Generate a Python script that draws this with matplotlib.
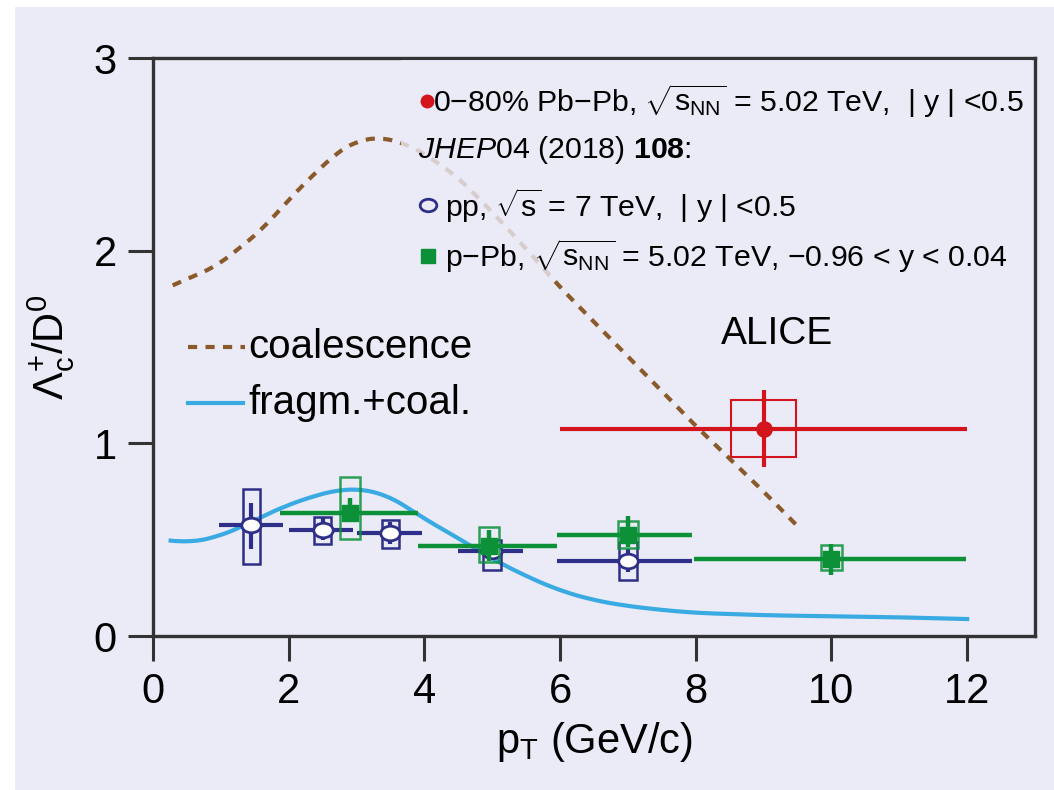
import numpy as np
import matplotlib
matplotlib.use('Agg')
import matplotlib.pyplot as plt
from matplotlib.patches import Rectangle
from matplotlib.path import Path
from matplotlib.transforms import Affine2D

# fonts
plt.rcParams['font.family'] = ['Liberation Sans', 'DejaVu Sans']
plt.rcParams['mathtext.fontset'] = 'custom'
plt.rcParams['mathtext.rm'] = 'Liberation Sans'
plt.rcParams['mathtext.it'] = 'Liberation Sans:italic'
plt.rcParams['mathtext.bf'] = 'Liberation Sans:bold'

# colours
BG = '#ebebf7'
RED = '#d3141c'
NAVY = '#2e2f88'
GREEN = '#0c9138'
BROWN = '#8b5a2b'
SKY = '#3aaae2'

# Pb-Pb 0-80%
pbpb_x = [9.0]
pbpb_y = [1.075]
pbpb_xerr = [3.0]
pbpb_stat = [0.20]
pbpb_sys_lo = [0.93]
pbpb_sys_hi = [1.225]

# pp 7 TeV
pp_x = [1.45, 2.5, 3.5, 5.0, 7.0]
pp_y = [0.575, 0.55, 0.533, 0.44, 0.39]
pp_xlo = [0.97, 2.0, 3.0, 4.5, 5.95]
pp_xhi = [1.92, 2.95, 3.97, 5.45, 7.95]
pp_stat_lo = [0.45, 0.50, 0.48, 0.40, 0.33]
pp_stat_hi = [0.69, 0.61, 0.59, 0.48, 0.45]
pp_sys_lo = [0.375, 0.477, 0.455, 0.34, 0.29]
pp_sys_hi = [0.765, 0.62, 0.60, 0.50, 0.49]

# p-Pb 5.02 TeV
ppb_x = [2.9, 4.95, 7.0, 10.0]
ppb_y = [0.637, 0.467, 0.525, 0.40]
ppb_xlo = [1.87, 3.9, 5.95, 7.97]
ppb_xhi = [3.9, 5.95, 7.95, 11.98]
ppb_stat_lo = [0.59, 0.39, 0.46, 0.315]
ppb_stat_hi = [0.715, 0.55, 0.625, 0.48]
ppb_sys_lo = [0.503, 0.382, 0.458, 0.342]
ppb_sys_hi = [0.827, 0.564, 0.597, 0.472]

# model curves
coal_x = [0.29, 0.94, 1.58, 2.12, 2.71, 3.0, 3.4, 3.89, 4.5, 5.0, 5.5, 6.0, 6.5,
          7.0, 7.5, 8.0, 8.5, 9.0, 9.5]
coal_y = [1.82, 1.92, 2.10, 2.31, 2.51, 2.57, 2.59, 2.53, 2.38, 2.20, 2.01, 1.81, 1.63,
          1.45, 1.27, 1.09, 0.92, 0.75, 0.57]
frag_x = [0.26, 0.55, 0.9, 1.28, 1.6, 1.92, 2.3, 2.8, 3.1, 3.4, 3.7, 4.03, 4.38,
          5.0, 5.5, 6.0, 6.5, 7.0, 7.5, 8.0, 9.0, 10.0, 11.0, 12.0]
frag_y = [0.495, 0.484, 0.51, 0.56, 0.62, 0.67, 0.72, 0.765, 0.76, 0.74, 0.68, 0.60, 0.533,
          0.40, 0.31, 0.235, 0.185, 0.155, 0.135, 0.12, 0.108, 0.102, 0.097, 0.088]

fig = plt.figure(figsize=(10.54, 7.9), dpi=100, facecolor='white')
fig.patches.append(Rectangle((15 / 1054, 0), 1, 1 - 7 / 790, transform=fig.transFigure,
                             facecolor=BG, edgecolor='none', zorder=-10))
ax = fig.add_axes([153 / 1054, 154 / 790, 882 / 1054, 578 / 790])
ax.set_facecolor(BG)


def smooth(xs, ys, n=300, k=7):
    # linear through the read points, then a light running mean
    t = np.linspace(xs[0], xs[-1], n)
    base = np.interp(t, xs, ys)
    pad = np.pad(base, k, mode='reflect', reflect_type='odd')
    kern = np.ones(2 * k + 1) / (2 * k + 1)
    return t, np.convolve(pad, kern, mode='valid')


cx, cy = smooth(coal_x, coal_y)
fx, fy = smooth(frag_x, frag_y)
ax.plot(cx, cy, color=BROWN, lw=3, dashes=(2.2, 2.0), zorder=2)
ax.plot(fx, fy, color=SKY, lw=3, zorder=2)

# faded box behind the top-right legend
ax.add_patch(Rectangle((3.65, 1.87), 9.3, 1.12, facecolor=BG, edgecolor='none',
                       alpha=0.8, zorder=3))

ellipse = Path.unit_circle().transformed(Affine2D().scale(1.0, 0.75))

# pp
for i in range(len(pp_x)):
    ax.add_patch(Rectangle((pp_x[i] - 0.13, pp_sys_lo[i]), 0.26, pp_sys_hi[i] - pp_sys_lo[i],
                           fill=False, edgecolor=NAVY, lw=1.8, zorder=4))
    ax.plot([pp_xlo[i], pp_xhi[i]], [pp_y[i], pp_y[i]], color=NAVY, lw=3, zorder=4,
            solid_capstyle='butt')
    ax.plot([pp_x[i], pp_x[i]], [pp_stat_lo[i], pp_stat_hi[i]], color=NAVY, lw=3, zorder=4,
            solid_capstyle='butt')
ax.plot(pp_x, pp_y, ls='none', marker=ellipse, ms=14, mfc='white', mec=NAVY, mew=2, zorder=5)

# p-Pb
for i in range(len(ppb_x)):
    ax.add_patch(Rectangle((ppb_x[i] - 0.15, ppb_sys_lo[i]), 0.30, ppb_sys_hi[i] - ppb_sys_lo[i],
                           fill=False, edgecolor=GREEN, lw=1.8, alpha=0.85, zorder=6))
    ax.plot([ppb_xlo[i], ppb_xhi[i]], [ppb_y[i], ppb_y[i]], color=GREEN, lw=3.2, zorder=6,
            solid_capstyle='butt')
    ax.plot([ppb_x[i], ppb_x[i]], [ppb_stat_lo[i], ppb_stat_hi[i]], color=GREEN, lw=3.2,
            zorder=6, solid_capstyle='butt')
ax.plot(ppb_x, ppb_y, ls='none', marker='s', ms=11, color=GREEN, zorder=7)

# Pb-Pb
for i in range(len(pbpb_x)):
    ax.add_patch(Rectangle((pbpb_x[i] - 0.48, pbpb_sys_lo[i]), 0.96,
                           pbpb_sys_hi[i] - pbpb_sys_lo[i],
                           fill=False, edgecolor=RED, lw=1.5, zorder=8))
    ax.plot([pbpb_x[i] - pbpb_xerr[i], pbpb_x[i] + pbpb_xerr[i]], [pbpb_y[i], pbpb_y[i]],
            color=RED, lw=3, zorder=8, solid_capstyle='butt')
    ax.plot([pbpb_x[i], pbpb_x[i]], [pbpb_y[i] - pbpb_stat[i], pbpb_y[i] + pbpb_stat[i]],
            color=RED, lw=3, zorder=8, solid_capstyle='butt')
ax.plot(pbpb_x, pbpb_y, ls='none', marker='o', ms=11, color=RED, zorder=9)

# top-right legend
fs = 21.8
ax.plot([4.04], [2.776], marker='o', ms=9, color=RED, zorder=10)
ax.text(4.12, 2.776, r'0$-$80% Pb$-$Pb, $\sqrt{\rm s_{NN}}$ = 5.02 TeV,  | y | <0.5',
        fontsize=fs, va='center', ha='left', zorder=10)
ax.text(3.9, 2.52, r'$\it{JHEP}$04 (2018) $\bf{108}$:', fontsize=fs, va='center',
        ha='left', zorder=10)
ax.plot([4.05], [2.235], marker=ellipse, ms=12, mfc='none', mec=NAVY, mew=2, zorder=10)
ax.text(4.3, 2.235, r'pp, $\sqrt{\rm s}$ = 7 TeV,  | y | <0.5', fontsize=fs, va='center',
        ha='left', zorder=10)
ax.plot([4.05], [1.97], marker='s', ms=10, color=GREEN, zorder=10)
ax.text(4.3, 1.97, r'p$-$Pb, $\sqrt{\rm s_{NN}}$ = 5.02 TeV, $-$0.96 < y < 0.04',
        fontsize=fs, va='center', ha='left', zorder=10)

# model legend
ax.plot([0.52, 1.36], [1.50, 1.50], color=BROWN, lw=3, dashes=(2.2, 2.0))
ax.text(1.41, 1.50, 'coalescence', fontsize=29, va='center', ha='left')
ax.plot([0.52, 1.33], [1.21, 1.21], color=SKY, lw=3)
ax.text(1.41, 1.21, 'fragm.+coal.', fontsize=29, va='center', ha='left')

ax.text(9.2, 1.57, 'ALICE', fontsize=28, va='center', ha='center')

ax.set_xlim(0, 13)
ax.set_ylim(0, 3)
ax.set_xticks([0, 2, 4, 6, 8, 10, 12])
ax.set_yticks([0, 1, 2, 3])
ax.tick_params(direction='out', length=18, width=2.2, color='#333333', labelsize=30,
               pad=8, top=False, right=False)
for sp in ax.spines.values():
    sp.set_linewidth(2.4)
    sp.set_color('#333333')

ax.set_xlabel(r'p$_{\rm T}$ (GeV/c)', fontsize=30, labelpad=6)
ax.set_ylabel(r'$\Lambda_{\rm c}^{+}$/D$^{0}$', fontsize=30, labelpad=12)

fig.savefig('out.png', dpi=100, facecolor=fig.get_facecolor())
